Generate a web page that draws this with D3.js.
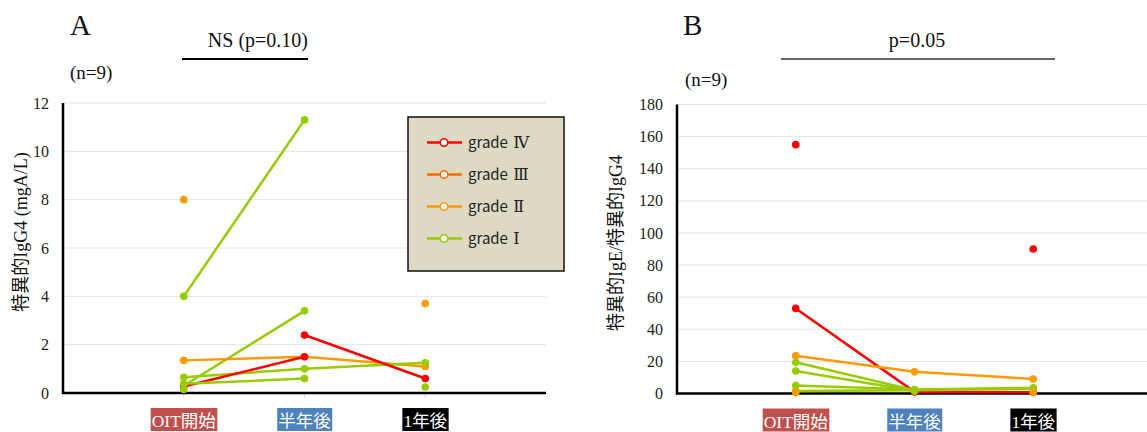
<!DOCTYPE html>
<html>
<head>
<meta charset="utf-8">
<script src="https://cdn.jsdelivr.net/npm/d3@7/dist/d3.min.js"></script>
<style>
  html, body { margin: 0; padding: 0; background: #fff; }
  svg { display: block; }
</style>
</head>
<body>
<svg id="chart" width="1147" height="432"></svg>
<script>
// Time points along the x axis
const timepoints = ["OIT開始", "半年後", "1年後"];
const timepointFill = ["#c0504d", "#4f81bd", "#000000"];

// Allergy grades and their colours
const gradeNumerals = ["Ⅳ", "Ⅲ", "Ⅱ", "Ⅰ"];
const gradeColors = ["#ff0000", "#ff6600", "#ff9900", "#99cc00"];

// Panel A: specific IgG4 (mgA/L), one row per patient trace, null = not measured
const igg4Grade = [3, 3, 2, 3, 0, 3, 2, 0, 2, 3, 3];
const igg4Values = [
  [4.0, 11.3, null],
  [0.3, 3.4, null],
  [1.35, 1.5, 1.1],
  [0.65, 1.0, 1.25],
  [0.27, 1.5, null],
  [0.38, 0.6, null],
  [8.0, null, null],
  [null, 2.4, 0.6],
  [null, null, 3.7],
  [0.15, null, null],
  [null, null, 0.25]
];
const igg4Ticks = [0, 2, 4, 6, 8, 10, 12];

// Panel B: specific IgE / specific IgG4 ratio
const ratioGrade = [0, 0, 0, 2, 3, 3, 3, 3, 2];
const ratioValues = [
  [155, null, null],
  [53, 1, 0.8],
  [null, null, 90],
  [23.5, 13.5, 9],
  [19.5, 2, null],
  [14, 1.5, null],
  [5, 2.5, 3.5],
  [1.5, 2, 3],
  [0.6, null, 0.6]
];
const ratioTicks = [0, 20, 40, 60, 80, 100, 120, 140, 160, 180];

const svg = d3.select("#chart");
const serif = "'Liberation Serif', 'Noto Sans CJK JP', serif";
const cjk = "'Noto Sans CJK JP', 'Liberation Sans', sans-serif";

function drawPanel(p) {
  const g = svg.append("g");
  const x = d3.scaleLinear().domain([0, 4]).range([p.left, p.right]);
  const y = d3.scaleLinear().domain([0, p.max]).range([p.bottom, p.top]);

  // horizontal gridlines
  g.append("g").selectAll("line").data(p.ticks).join("line")
    .attr("x1", p.left).attr("x2", Math.min(p.right, 1147))
    .attr("y1", d => y(d)).attr("y2", d => y(d))
    .attr("stroke", "#e4e4e4").attr("stroke-width", 1);

  // y axis tick labels
  const yAxis = d3.axisLeft(y).tickValues(p.ticks).tickSize(0).tickPadding(p.tickPad);
  const ya = g.append("g").attr("transform", `translate(${p.left},0)`).call(yAxis)
    .attr("font-family", serif).attr("font-size", 16);
  ya.select(".domain").remove();
  ya.selectAll("text").attr("fill", "#222");

  // small ticks under the x axis at each time point
  g.append("g").selectAll("line").data(timepoints).join("line")
    .attr("x1", (d, i) => x(i + 1)).attr("x2", (d, i) => x(i + 1))
    .attr("y1", p.bottom).attr("y2", p.bottom + 5)
    .attr("stroke", "#d8d8d8").attr("stroke-width", 1);

  // axes lines
  g.append("line").attr("x1", p.left).attr("x2", p.left)
    .attr("y1", p.top).attr("y2", p.bottom + 1)
    .attr("stroke", "#000").attr("stroke-width", 2.5);
  g.append("line").attr("x1", p.left - 1).attr("x2", p.right)
    .attr("y1", p.bottom).attr("y2", p.bottom)
    .attr("stroke", "#000").attr("stroke-width", 2.5);

  // x category labels on coloured boxes
  const lab = g.append("g").selectAll("g").data(timepoints).join("g")
    .attr("transform", (d, i) => `translate(${x(i + 1)},0)`);
  lab.append("text")
    .attr("text-anchor", "middle").attr("y", p.bottom + 34)
    .attr("font-family", serif).attr("font-size", 17.5).attr("fill", "#fff")
    .text(d => d);
  lab.each(function (d, i) {
    const t = d3.select(this).select("text");
    const bb = t.node().getBBox();
    d3.select(this).insert("rect", "text")
      .attr("x", bb.x - 1).attr("width", bb.width + 2)
      .attr("y", p.bottom + 15).attr("height", 23)
      .attr("fill", timepointFill[i]);
  });

  // patient traces
  const line = d3.line()
    .defined(d => d != null)
    .x((d, i) => x(i + 1)).y(d => y(d));
  const traces = g.append("g");
  p.values.forEach((vals, k) => {
    const col = gradeColors[p.grade[k]];
    traces.append("path").datum(vals)
      .attr("d", line).attr("fill", "none")
      .attr("stroke", col).attr("stroke-width", 2.5);
    traces.append("g").selectAll("circle")
      .data(vals.map((v, i) => ({ v, i })).filter(d => d.v != null))
      .join("circle")
      .attr("cx", d => x(d.i + 1)).attr("cy", d => y(d.v))
      .attr("r", 3.8).attr("fill", col);
  });

  // panel letter, significance bar, n
  svg.append("text").attr("x", p.letterX).attr("y", 35)
    .attr("font-family", serif).attr("font-size", 29).attr("fill", "#111").text(p.letter);
  svg.append("text").attr("x", p.sigX).attr("y", 47)
    .attr("text-anchor", p.sigAnchor)
    .attr("font-family", serif).attr("font-size", 20).attr("fill", "#111").text(p.sig);
  svg.append("line").attr("x1", p.barX1).attr("x2", p.barX2)
    .attr("y1", 59).attr("y2", 59)
    .attr("stroke", p.barColor).attr("stroke-width", p.barWidth);
  svg.append("text").attr("x", p.nX).attr("y", p.nY)
    .attr("font-family", serif).attr("font-size", 19).attr("fill", "#111").text("(n=9)");

  // y axis title
  svg.append("text")
    .attr("transform", `translate(${p.titleX},${p.titleY}) rotate(-90)`)
    .attr("text-anchor", "middle")
    .attr("font-family", serif).attr("font-size", 18).attr("fill", "#111")
    .text(p.yTitle);
}

drawPanel({
  left: 63, right: 546, top: 103, bottom: 393, max: 12,
  ticks: igg4Ticks, values: igg4Values, grade: igg4Grade, tickPad: 14,
  letter: "A", letterX: 70, sig: "NS (p=0.10)", sigX: 308, sigAnchor: "end",
  barX1: 182, barX2: 308, barColor: "#000", barWidth: 2,
  nX: 70, nY: 79, titleX: 27, titleY: 232, yTitle: "特異的IgG4 (mgA/L)"
});

drawPanel({
  left: 677, right: 1152, top: 104.5, bottom: 393.5, max: 180,
  ticks: ratioTicks, values: ratioValues, grade: ratioGrade, tickPad: 14,
  letter: "B", letterX: 683, sig: "p=0.05", sigX: 917, sigAnchor: "middle",
  barX1: 781, barX2: 1055, barColor: "#333", barWidth: 1.6,
  nX: 685, nY: 86, titleX: 622, titleY: 243, yTitle: "特異的IgE/特異的IgG4"
});

// Legend for panel A
const legend = svg.append("g").attr("transform", "translate(408,117)");
legend.append("rect").attr("width", 156).attr("height", 154)
  .attr("fill", "#ddd9c3").attr("stroke", "#111").attr("stroke-width", 1.5);
const items = legend.selectAll("g.item").data(gradeNumerals).join("g")
  .attr("class", "item")
  .attr("transform", (d, i) => `translate(0,${25.5 + i * 32})`);
items.append("line").attr("x1", 19).attr("x2", 54)
  .attr("stroke", (d, i) => gradeColors[i]).attr("stroke-width", 2.5);
items.append("circle").attr("cx", 36).attr("r", 3.8)
  .attr("fill", "#fff").attr("stroke", (d, i) => gradeColors[i]).attr("stroke-width", 1.5);
const legendText = items.append("text").attr("x", 60).attr("y", 5.5)
  .attr("font-family", cjk).attr("font-size", 15).attr("fill", "#222");
legendText.append("tspan").text("grade ");
legendText.append("tspan")
  .attr("font-family", "'DejaVu Serif', 'Liberation Serif', serif")
  .attr("font-size", 16).attr("dx", 2)
  .text(d => d);
</script>
</body>
</html>
